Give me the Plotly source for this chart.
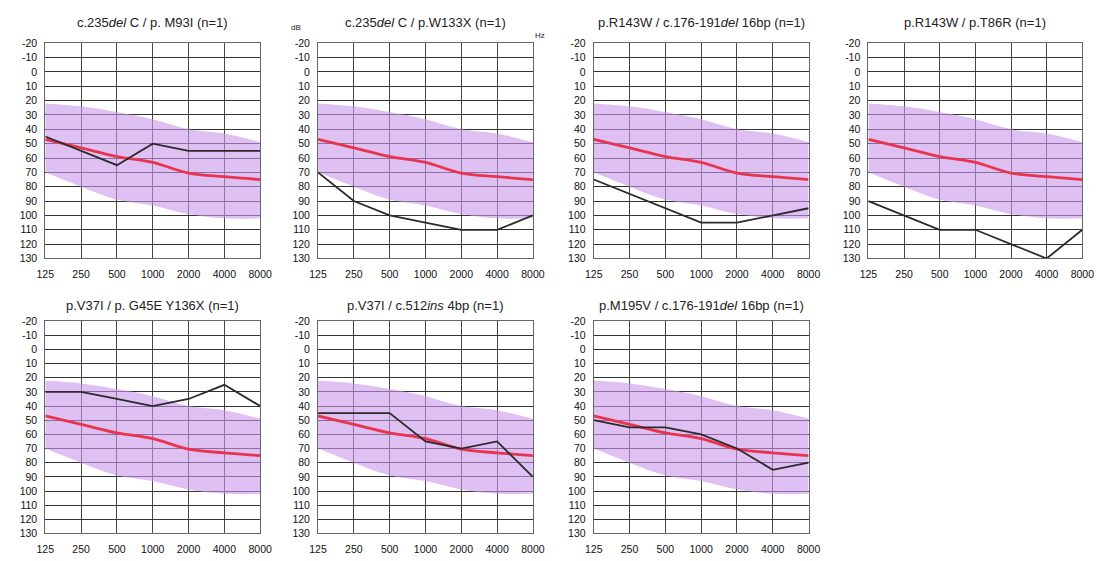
import plotly.graph_objects as go

freqs = ["125", "250", "500", "1000", "2000", "4000", "8000"]
y_ticks = [-20, -10, 0, 10, 20, 30, 40, 50, 60, 70, 80, 90, 100, 110, 120, 130]
y_tick_labels = ["-20", "-10", "0", "10", "20", "30", "40", "50", "60", "70",
                 "80", "90", "100", "110", "120", "130"]

band_upper = [22, 24, 28, 33, 40, 43, 49]
band_lower = [70, 80, 89, 93, 99, 102, 102]
mean_curve = [47, 53, 59, 63, 70.5, 73, 75]

titles = [
    "c.235<i>del</i> C / p. M93I (n=1)",
    "c.235<i>del</i> C / p.W133X (n=1)",
    "p.R143W / c.176-191<i>del</i> 16bp (n=1)",
    "p.R143W / p.T86R (n=1)",
    "p.V37I / p. G45E Y136X (n=1)",
    "p.V37I / c.512<i>ins</i> 4bp (n=1)",
    "p.M195V / c.176-191<i>del</i> 16bp (n=1)",
]

patient_1 = [45, 55, 65, 50, 55, 55, 55]
patient_2 = [70, 90, 100, 105, 110, 110, 100]
patient_3 = [75, 85, 95, 105, 105, 100, 95]
patient_4 = [90, 100, 110, 110, 120, 130, 110]
patient_5 = [30, 30, 35, 40, 35, 25, 40]
patient_6 = [45, 45, 45, 65, 70, 65, 90]
patient_7 = [50, 55, 55, 60, 70, 85, 80]
patients = [patient_1, patient_2, patient_3, patient_4, patient_5, patient_6, patient_7]

W, H = 1110, 561
col_px = [(37, 256), (315, 534), (596, 815), (876, 1094)]
row_px = [(38, 258), (322, 539)]
title_px_y = [17, 306]

FONT = "Liberation Sans, Arial, sans-serif"
fig = go.Figure()
layout = dict(
    width=W, height=H, margin=dict(l=0, r=0, t=0, b=0),
    paper_bgcolor="white", plot_bgcolor="white", showlegend=False,
    font=dict(family=FONT, size=10, color="#111"),
)
annotations = []
for i, (title, pat) in enumerate(zip(titles, patients)):
    r, c = divmod(i, 4)
    n = i + 1
    xa = "xaxis" if n == 1 else f"xaxis{n}"
    ya = "yaxis" if n == 1 else f"yaxis{n}"
    xr = "x" if n == 1 else f"x{n}"
    yr = "y" if n == 1 else f"y{n}"
    x0, x1 = col_px[c]
    t0, t1 = row_px[r]
    layout[xa] = dict(
        domain=[x0 / W, x1 / W], anchor=yr, type="category",
        categoryorder="array", categoryarray=freqs, range=[0, 6],
        showgrid=True, gridcolor="#4a4a38", gridwidth=1,
        showline=True, linecolor="#666", linewidth=1, mirror=True,
        ticks="outside", ticklen=6, tickcolor="rgba(0,0,0,0)",
        tickfont=dict(size=10.5, color="#111"), zeroline=False, fixedrange=True,
    )
    layout[ya] = dict(
        domain=[1 - t1 / H, 1 - t0 / H], anchor=xr,
        range=[130, -20], tickvals=y_ticks, ticktext=y_tick_labels,
        showgrid=True, gridcolor="#333", gridwidth=1,
        showline=True, linecolor="#666", linewidth=1, mirror=True,
        ticks="outside", ticklen=5, tickcolor="rgba(0,0,0,0)",
        tickfont=dict(size=10.5, color="#111"), zeroline=False, fixedrange=True,
    )
    fig.add_trace(go.Scatter(x=freqs, y=band_lower, xaxis=xr, yaxis=yr, mode="lines",
                             line=dict(width=0, shape="spline", color="rgba(0,0,0,0)"),
                             hoverinfo="skip"))
    fig.add_trace(go.Scatter(x=freqs, y=band_upper, xaxis=xr, yaxis=yr, mode="lines",
                             line=dict(width=0, shape="spline", color="rgba(0,0,0,0)"),
                             fill="tonexty", fillcolor="rgba(200,150,235,0.6)",
                             hoverinfo="skip"))
    fig.add_trace(go.Scatter(x=freqs, y=mean_curve, xaxis=xr, yaxis=yr, mode="lines",
                             line=dict(width=2.8, shape="spline", color="#e8344e")))
    fig.add_trace(go.Scatter(x=freqs, y=pat, xaxis=xr, yaxis=yr, mode="lines",
                             line=dict(width=1.8, color="#2a2a2a")))
    annotations.append(dict(
        text=title, xref="paper", yref="paper", x=(x0 + x1) / 2 / W,
        y=1 - title_px_y[r] / H, xanchor="center", yanchor="middle",
        showarrow=False, font=dict(size=13, color="#222", family=FONT),
    ))

annotations.append(dict(text="dB", xref="paper", yref="paper", x=293 / W, y=1 - 22 / H,
                        xanchor="center", yanchor="middle", showarrow=False,
                        font=dict(size=8, color="#222", family=FONT)))
annotations.append(dict(text="Hz", xref="paper", yref="paper", x=541 / W, y=1 - 30 / H,
                        xanchor="center", yanchor="middle", showarrow=False,
                        font=dict(size=8, color="#222", family=FONT)))
layout["annotations"] = annotations
fig.update_layout(**layout)
fig.write_html("out.html")
